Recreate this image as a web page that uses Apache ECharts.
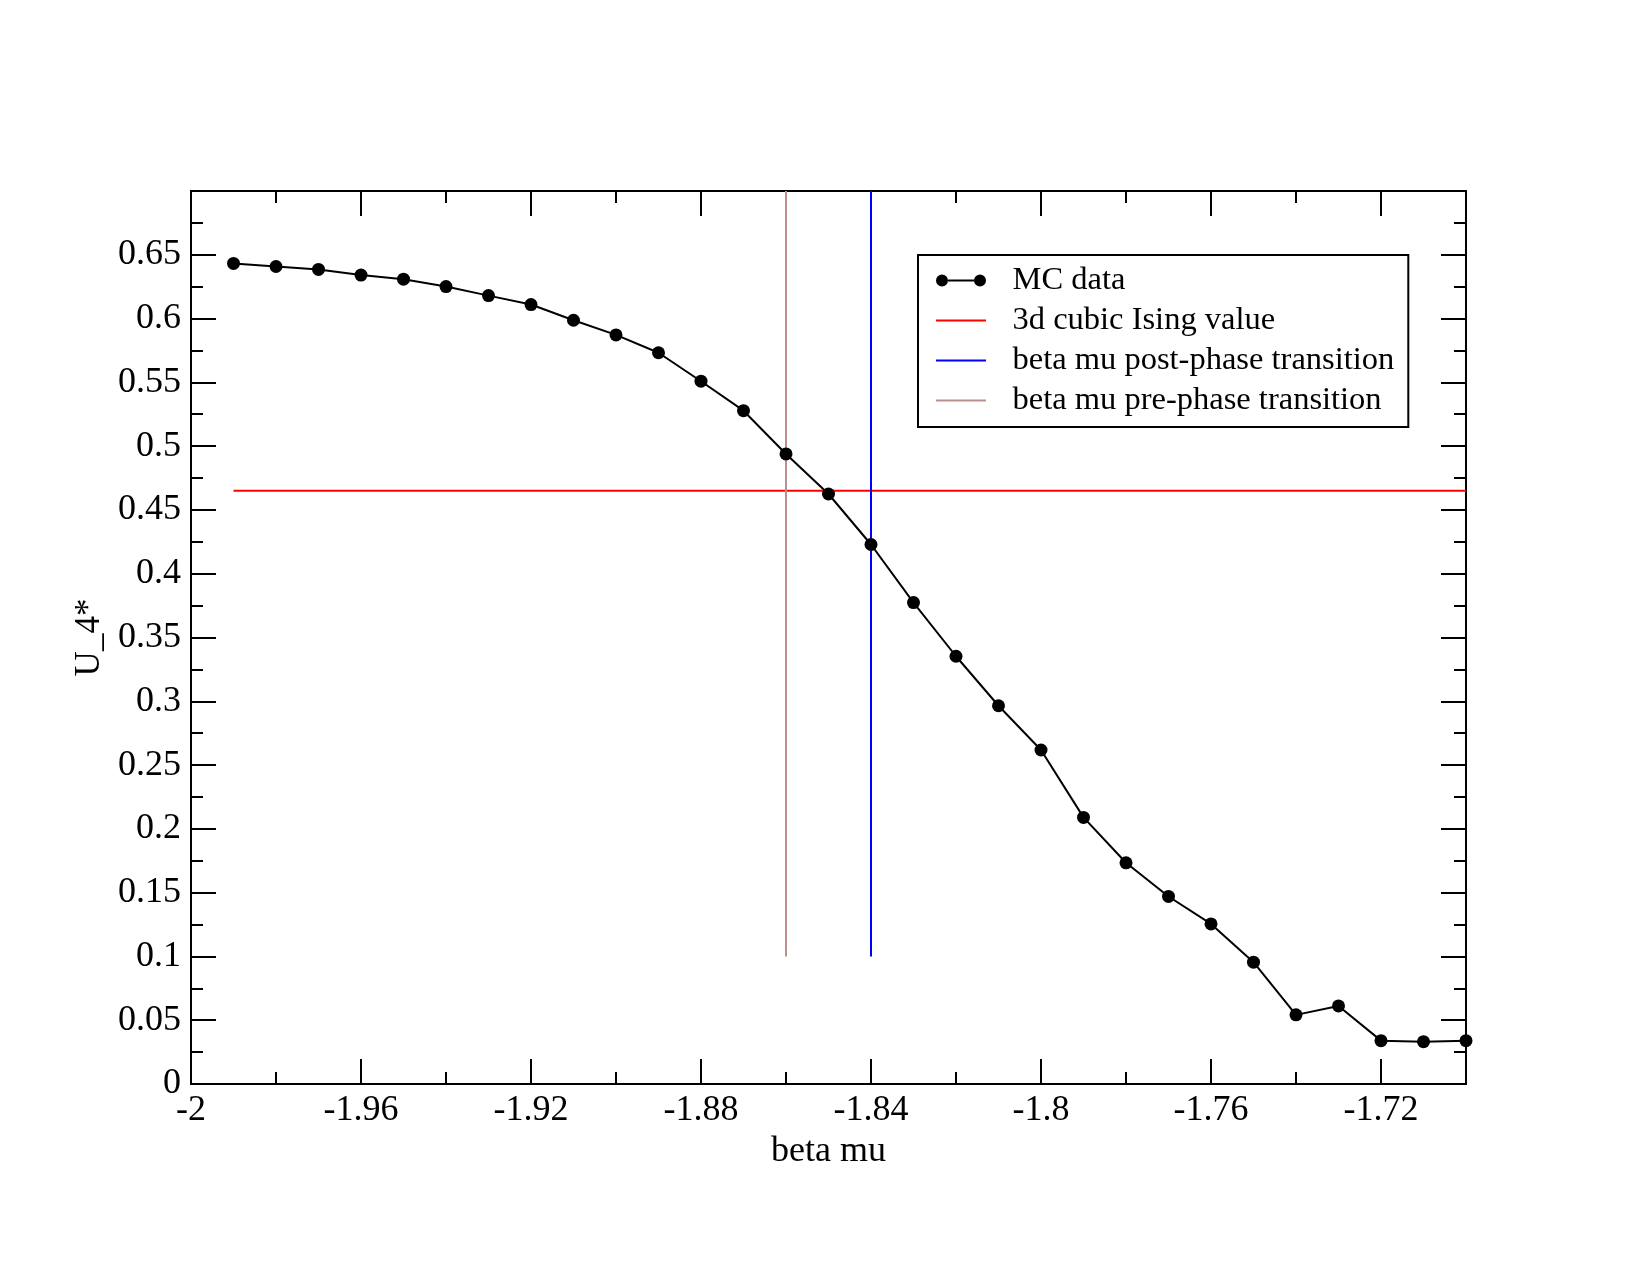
<!DOCTYPE html>
<html>
<head>
<meta charset="utf-8">
<script src="https://cdn.jsdelivr.net/npm/echarts@6/dist/echarts.min.js"></script>
<style>
  html, body { margin: 0; padding: 0; background: #fff; }
  #chart1 { width: 1650px; height: 1275px; }
</style>
</head>
<body>
<div id="chart1"></div>
<script>
// data
var betaMu = [-1.99, -1.98, -1.97, -1.96, -1.95, -1.94, -1.93, -1.92, -1.91, -1.90,
              -1.89, -1.88, -1.87, -1.86, -1.85, -1.84, -1.83, -1.82, -1.81, -1.80,
              -1.79, -1.78, -1.77, -1.76, -1.75, -1.74, -1.73, -1.72, -1.71, -1.70];
var u4 = [0.6432, 0.6408, 0.6385, 0.6341, 0.6309, 0.6251, 0.6180, 0.6110, 0.5987, 0.5872,
          0.5732, 0.5509, 0.5278, 0.4939, 0.4625, 0.4229, 0.3774, 0.3353, 0.2965, 0.2618,
          0.2090, 0.1734, 0.1470, 0.1255, 0.0955, 0.0542, 0.0612, 0.0340, 0.0332, 0.0340];
var isingValue = 0.465;
var isingRange = [-1.99, -1.70];
var betaPost = -1.84;
var betaPre = -1.86;
var vLineRange = [0.1, 0.7];

var FONT = 'Liberation Serif';

var mychart1 = echarts.init(document.getElementById('chart1'));

function xAx(pos, len, interval, labels) {
    return {
        type: 'value', position: pos, min: -2, max: -1.70, interval: interval,
        axisLine: { show: true, onZero: false, lineStyle: { color: '#000', width: 2 } },
        axisTick: { show: true, inside: true, length: len, lineStyle: { color: '#000', width: 2 } },
        axisLabel: labels ? { show: true, showMaxLabel: false, color: '#000', fontFamily: FONT, fontSize: 36, margin: 9 } : { show: false },
        splitLine: { show: false },
        name: labels ? 'beta mu' : '', nameLocation: 'middle', nameGap: 50,
        nameTextStyle: { color: '#000', fontFamily: FONT, fontSize: 36 }
    };
}
function yAx(pos, labels) {
    return {
        type: 'value', position: pos, min: 0, max: 0.7, interval: 0.05,
        axisLine: { show: true, onZero: false, lineStyle: { color: '#000', width: 2 } },
        axisTick: { show: true, inside: true, length: 25, lineStyle: { color: '#000', width: 2 } },
        minorTick: { show: true, splitNumber: 2, length: 12, lineStyle: { color: '#000', width: 2 } },
        axisLabel: labels ? { show: true, showMaxLabel: false, color: '#000', fontFamily: FONT, fontSize: 36, margin: 10 } : { show: false },
        splitLine: { show: false },
        name: labels ? 'U_4*' : '', nameLocation: 'middle', nameGap: 82, nameRotate: 90,
        nameTextStyle: { color: '#000', fontFamily: FONT, fontSize: 35 }
    };
}

// legend icons: line with a dot at each end, and a plain thin line
var mcIcon = 'path://M0,0 M50,12 M0,6 A6,6 0 1 1 12,6 A6,6 0 1 1 0,6 Z M12,5 L38,5 L38,7 L12,7 Z M38,6 A6,6 0 1 1 50,6 A6,6 0 1 1 38,6 Z';
var lineIcon = 'path://M0,0 M50,12 M0,5 L50,5 L50,7 L0,7 Z';

var option = {
    animation: false,
    backgroundColor: '#fff',
    grid: { left: 191, right: 184, top: 191, bottom: 191 },
    legend: {
        left: 918, top: 255, orient: 'vertical',
        backgroundColor: '#fff', borderColor: '#000', borderWidth: 2,
        padding: [9, 14, 10, 18],
        itemWidth: 51, itemHeight: 12, itemGap: 7,
        textStyle: { color: '#000', fontFamily: FONT, fontSize: 32.5, lineHeight: 32, padding: [0, 0, 0, 21] },
        data: [
            { name: 'MC data', icon: mcIcon },
            { name: '3d cubic Ising value', icon: lineIcon },
            { name: 'beta mu post-phase transition', icon: lineIcon },
            { name: 'beta mu pre-phase transition', icon: lineIcon }
        ]
    },
    xAxis: [
        xAx('bottom', 25, 0.04, true),
        xAx('bottom', 12, 0.02, false),
        xAx('top', 25, 0.04, false),
        xAx('top', 12, 0.02, false)
    ],
    yAxis: [yAx('left', true), yAx('right', false)],
    series: [
        {
            name: '3d cubic Ising value', type: 'line', symbol: 'none',
            color: '#ff0000', lineStyle: { color: '#ff0000', width: 2 },
            data: [[isingRange[0], isingValue], [isingRange[1], isingValue]]
        },
        {
            name: 'beta mu post-phase transition', type: 'line', symbol: 'none',
            color: '#0000ff', lineStyle: { color: '#0000ff', width: 2 },
            data: [[betaPost, vLineRange[0]], [betaPost, vLineRange[1]]]
        },
        {
            name: 'beta mu pre-phase transition', type: 'line', symbol: 'none',
            color: '#bc8f8f', lineStyle: { color: '#bc8f8f', width: 2 },
            data: [[betaPre, vLineRange[0]], [betaPre, vLineRange[1]]]
        },
        {
            name: 'MC data', type: 'line', symbol: 'circle', symbolSize: 13,
            color: '#000', lineStyle: { color: '#000', width: 2 },
            itemStyle: { color: '#000' },
            data: betaMu.map(function (x, i) { return [x, u4[i]]; })
        }
    ]
};

mychart1.setOption(option);
</script>
</body>
</html>
